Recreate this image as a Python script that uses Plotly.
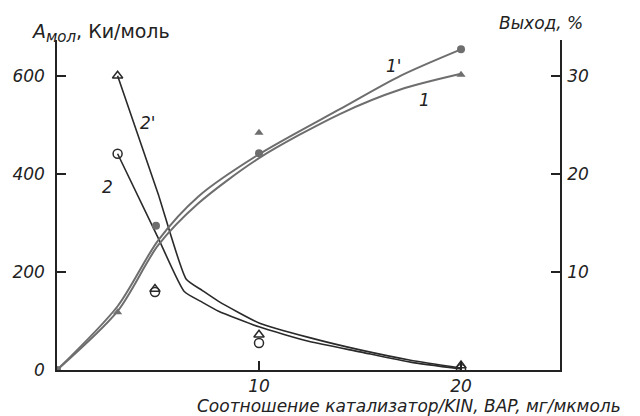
import plotly.graph_objects as go

# ---- traced curves (x = ratio catalyst/KIN, BAP, mg/umol) ----
# curves 1, 1' : yield, % (right axis)
x_c1 = [0, 3, 5, 7, 10, 14, 17, 20]
y_c1 = [0, 6.0, 12.7, 17.0, 21.6, 26.1, 28.6, 30.2]
x_c1p = [0, 3, 5, 7, 10, 14, 17, 20]
y_c1p = [0, 6.5, 13.2, 17.7, 22.0, 26.6, 30.0, 32.7]
# curves 2, 2' : A_mol, Ci/mol (left axis)
x_c2 = [3, 5, 6.3, 7.2, 8, 10, 12.5, 15, 17.5, 20]
y_c2 = [441, 270, 160, 138, 120, 88, 58, 37, 16, 2]
x_c2p = [3, 5, 6.4, 7.2, 8, 10, 12.5, 15, 17.5, 20]
y_c2p = [600, 360, 185, 162, 140, 96, 66, 41, 20, 4]

# ---- measured points ----
x_m1 = [3, 10, 20]
y_m1 = [5.9, 24.2, 30.1]
x_m1p = [0, 4.9, 10, 20]
y_m1p = [0, 14.7, 22.1, 32.7]
x_m2 = [3, 4.85, 10, 20]
y_m2 = [441, 159, 55, 2]
x_m2p = [3, 4.85, 10, 20]
y_m2p = [600, 165, 72, 9]

# ---- axis ticks ----
left_ticks = [0, 200, 400, 600]
right_ticks = [10, 20, 30]
x_ticks = [10, 20]

FONT = "DejaVu Sans"
GRAY = "#6e6e6e"
DARK = "#2a2a2a"

# page body has an 8px margin: figure is 632x408 so it fills the 640x416 window
W, H = 632, 408
ML, MR, MT, MB = 49, 80, 32, 46
PW, PH = W - ML - MR, H - MT - MB

fig = go.Figure()

# curves
fig.add_trace(go.Scatter(x=x_c1, y=y_c1, mode="lines", yaxis="y2",
                         line=dict(color=GRAY, width=2, shape="spline", smoothing=0.8)))
fig.add_trace(go.Scatter(x=x_c1p, y=y_c1p, mode="lines", yaxis="y2",
                         line=dict(color=GRAY, width=2, shape="spline", smoothing=0.8)))
fig.add_trace(go.Scatter(x=x_c2, y=y_c2, mode="lines",
                         line=dict(color=DARK, width=1.6, shape="spline", smoothing=0.5)))
fig.add_trace(go.Scatter(x=x_c2p, y=y_c2p, mode="lines",
                         line=dict(color=DARK, width=1.6, shape="spline", smoothing=0.5)))

# markers
fig.add_trace(go.Scatter(x=x_m1, y=y_m1, mode="markers", yaxis="y2",
                         marker=dict(symbol="triangle-up", size=8, color=GRAY)))
fig.add_trace(go.Scatter(x=x_m1p, y=y_m1p, mode="markers", yaxis="y2",
                         marker=dict(symbol="circle", size=8, color=GRAY)))
fig.add_trace(go.Scatter(x=x_m2, y=y_m2, mode="markers",
                         marker=dict(symbol="circle-open", size=9, color=DARK,
                                     line=dict(width=1.5))))
fig.add_trace(go.Scatter(x=x_m2p, y=y_m2p, mode="markers",
                         marker=dict(symbol="triangle-up-open", size=9, color=DARK,
                                     line=dict(width=1.5))))

ax_font = dict(family=FONT, size=17, color="#222", style="italic")

fig.update_layout(
    width=W, height=H,
    margin=dict(l=ML, r=MR, t=MT, b=MB, autoexpand=False),
    paper_bgcolor="white", plot_bgcolor="white",
    showlegend=False,
    font=dict(family=FONT, color="#222"),
    xaxis=dict(range=[0, 24.9], showgrid=False, zeroline=False,
               showline=True, linecolor="#222", linewidth=1.5,
               tickvals=x_ticks, ticktext=[str(v) for v in x_ticks],
               ticks="inside", ticklen=9, tickcolor="#222", tickwidth=1.5,
               tickfont=ax_font, ticklabelstandoff=0),
    yaxis=dict(range=[0, 673], showgrid=False, zeroline=False,
               showline=True, linecolor="#222", linewidth=1.5,
               tickvals=left_ticks, ticktext=[str(v) for v in left_ticks],
               ticks="inside", ticklen=9, tickcolor="#222", tickwidth=1.5,
               tickfont=ax_font, ticklabelstandoff=7),
    yaxis2=dict(range=[0, 673 / 20], overlaying="y", side="right",
                showgrid=False, zeroline=False,
                showline=True, linecolor="#222", linewidth=1.5,
                tickvals=right_ticks, ticktext=[str(v) for v in right_ticks],
                ticks="inside", ticklen=9, tickcolor="#222", tickwidth=1.5,
                tickfont=ax_font, ticklabelstandoff=2),
)

lab_font = dict(family=FONT, size=17, color="#222", style="italic")
# curve labels
for txt, xv, yv in [("1'", 16.7, 620), ("1", 18.2, 551), ("2'", 4.5, 504), ("2", 2.5, 373)]:
    fig.add_annotation(x=xv, y=yv, xref="x", yref="y", text=txt, showarrow=False,
                       font=lab_font)


def px(xp):  # window pixel -> paper x
    return (xp - 8 - ML) / PW


def py(yp):  # window pixel -> paper y
    return (H - MB - (yp - 8)) / PH


# axis titles
fig.add_annotation(x=px(29), y=py(33), xref="paper", yref="paper",
                   xanchor="left", yanchor="middle", showarrow=False,
                   text="<i>A</i><sub><i><span style='font-size:15px'>мол</span></i></sub>, Ки/моль",
                   font=dict(family=FONT, size=19, color="#222"))
fig.add_annotation(x=px(541), y=py(23), xref="paper", yref="paper",
                   xanchor="center", yanchor="middle", showarrow=False,
                   text="Выход, %", font=dict(family=FONT, size=17, color="#222", style="italic"))
fig.add_annotation(x=px(409), y=py(406), xref="paper", yref="paper",
                   xanchor="center", yanchor="middle", showarrow=False,
                   text="Соотношение катализатор/KIN, BAP, мг/мкмоль",
                   font=dict(family=FONT, size=17, color="#222", style="italic"))

fig.write_html("out.html")
